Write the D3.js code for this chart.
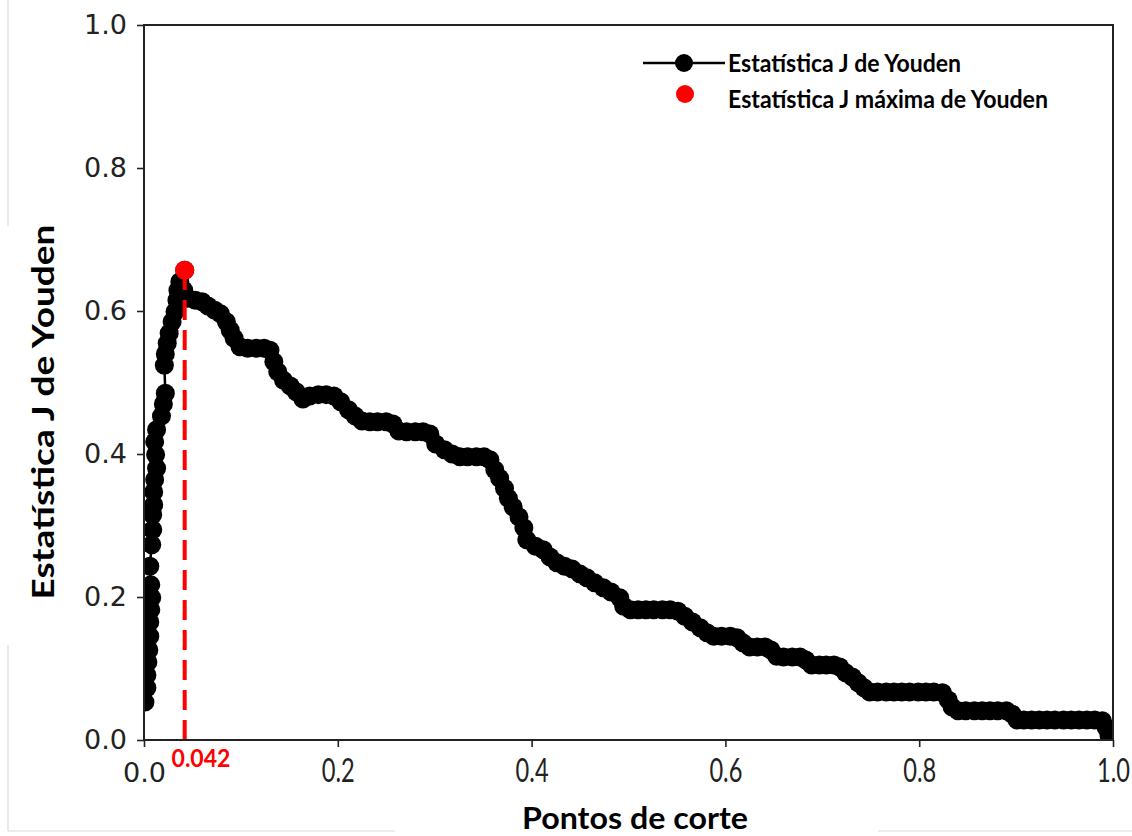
<!DOCTYPE html>
<html>
<head>
<meta charset="utf-8">
<script src="https://cdn.jsdelivr.net/npm/d3@7"></script>
<style>
body { margin: 0; background: #fff; }
svg { display: block; }
</style>
</head>
<body>
<script>
const WIDTH = 1132;
const HEIGHT = 836;
const LEFT = 144, RIGHT = 1113, TOP = 25, BOTTOM = 740;

// cut-off points (x) and Youden J (y)
var thresholds = [
    0.001, 0.003, 0.003, 0.004, 0.005, 0.006, 0.006, 0.007, 0.008, 0.007,
    0.006, 0.008, 0.009, 0.009, 0.010, 0.010, 0.011, 0.013, 0.012, 0.011,
    0.013, 0.018, 0.020, 0.022, 0.021, 0.022, 0.024, 0.026, 0.029, 0.032,
    0.034, 0.035, 0.037, 0.042, 0.041, 0.045, 0.053, 0.060, 0.066, 0.073,
    0.079, 0.085, 0.089, 0.093, 0.099, 0.107, 0.116, 0.124, 0.130, 0.134,
    0.138, 0.144, 0.151, 0.157, 0.164, 0.171, 0.180, 0.188, 0.196, 0.203,
    0.211, 0.218, 0.225, 0.233, 0.241, 0.250, 0.257, 0.263, 0.271, 0.280,
    0.288, 0.295, 0.301, 0.310, 0.318, 0.326, 0.334, 0.343, 0.351, 0.357,
    0.362, 0.367, 0.372, 0.376, 0.381, 0.387, 0.392, 0.395, 0.404, 0.412,
    0.419, 0.426, 0.434, 0.442, 0.450, 0.457, 0.465, 0.474, 0.482, 0.491,
    0.495, 0.502, 0.510, 0.518, 0.526, 0.535, 0.543, 0.551, 0.558, 0.566,
    0.574, 0.581, 0.588, 0.596, 0.605, 0.612, 0.618, 0.625, 0.633, 0.641,
    0.647, 0.653, 0.660, 0.669, 0.677, 0.683, 0.689, 0.697, 0.704, 0.712,
    0.718, 0.724, 0.731, 0.737, 0.743, 0.749, 0.757, 0.766, 0.774, 0.782,
    0.790, 0.799, 0.807, 0.815, 0.824, 0.830, 0.834, 0.840, 0.848, 0.857,
    0.865, 0.873, 0.881, 0.890, 0.896, 0.901, 0.908, 0.916, 0.924, 0.932,
    0.940, 0.949, 0.957, 0.965, 0.973, 0.981, 0.989, 0.993, 0.996, 0.999
];
var jValues = [
    0.053, 0.073, 0.091, 0.109, 0.126, 0.145, 0.165, 0.182, 0.199, 0.217,
    0.243, 0.273, 0.294, 0.315, 0.329, 0.347, 0.364, 0.380, 0.399, 0.417,
    0.434, 0.453, 0.470, 0.485, 0.524, 0.540, 0.555, 0.569, 0.585, 0.599,
    0.615, 0.629, 0.641, 0.657, 0.629, 0.618, 0.615, 0.613, 0.607, 0.601,
    0.596, 0.585, 0.573, 0.562, 0.550, 0.548, 0.548, 0.548, 0.545, 0.529,
    0.515, 0.503, 0.495, 0.487, 0.477, 0.481, 0.483, 0.483, 0.481, 0.473,
    0.462, 0.453, 0.446, 0.445, 0.445, 0.445, 0.442, 0.432, 0.431, 0.431,
    0.431, 0.428, 0.414, 0.406, 0.400, 0.396, 0.396, 0.396, 0.396, 0.392,
    0.378, 0.366, 0.352, 0.338, 0.326, 0.312, 0.297, 0.280, 0.271, 0.266,
    0.256, 0.248, 0.243, 0.239, 0.232, 0.227, 0.220, 0.213, 0.207, 0.199,
    0.187, 0.182, 0.182, 0.182, 0.182, 0.182, 0.182, 0.180, 0.173, 0.165,
    0.157, 0.150, 0.145, 0.145, 0.145, 0.143, 0.136, 0.130, 0.130, 0.130,
    0.126, 0.117, 0.116, 0.116, 0.116, 0.112, 0.105, 0.105, 0.105, 0.105,
    0.102, 0.094, 0.088, 0.080, 0.073, 0.067, 0.067, 0.067, 0.067, 0.067,
    0.067, 0.067, 0.067, 0.067, 0.066, 0.056, 0.046, 0.041, 0.041, 0.041,
    0.041, 0.041, 0.041, 0.041, 0.036, 0.028, 0.028, 0.028, 0.028, 0.028,
    0.028, 0.028, 0.028, 0.028, 0.028, 0.028, 0.027, 0.017, 0.006, 0.002
];
var maxThreshold = 0.042;
var maxJ = 0.657;

var xTicks = [0, 0.2, 0.4, 0.6, 0.8, 1.0];
var yTicks = [0, 0.2, 0.4, 0.6, 0.8, 1.0];
var legendNames = ['Estatística J de Youden', 'Estatística J máxima de Youden'];
var xLabel = 'Pontos de corte';
var yLabel = 'Estatística J de Youden';

var svg = d3.select('body').append('svg')
    .attr('width', WIDTH)
    .attr('height', HEIGHT);

svg.append('rect')
    .attr('width', WIDTH)
    .attr('height', HEIGHT)
    .attr('fill', '#fff');

// faint frame left over from the screenshot
var frame = svg.append('g')
    .attr('stroke', '#dcdcdc')
    .attr('stroke-width', 1.2);
frame.append('line').attr('x1', 8).attr('x2', 8).attr('y1', 0).attr('y2', 226);
frame.append('line').attr('x1', 8).attr('x2', 8).attr('y1', 645).attr('y2', 831);
frame.append('line').attr('x1', 8).attr('x2', 395).attr('y1', 831).attr('y2', 831);
frame.append('line').attr('x1', 878).attr('x2', WIDTH).attr('y1', 831).attr('y2', 831);

var xScale = d3.scaleLinear()
    .domain([0, 1])
    .range([LEFT, RIGHT]);
var yScale = d3.scaleLinear()
    .domain([0, 1])
    .range([BOTTOM, TOP]);

svg.append('clipPath')
    .attr('id', 'plot-area')
    .append('rect')
    .attr('x', LEFT)
    .attr('y', TOP)
    .attr('width', RIGHT - LEFT)
    .attr('height', BOTTOM - TOP);

var points = thresholds.map(function (t, i) {
    return [t, jValues[i]];
});

var line = d3.line()
    .x(function (d) { return xScale(d[0]); })
    .y(function (d) { return yScale(d[1]); });

var plot = svg.append('g')
    .attr('clip-path', 'url(#plot-area)');

plot.append('path')
    .attr('d', line(points))
    .attr('fill', 'none')
    .attr('stroke', '#000')
    .attr('stroke-width', 2.5);

plot.selectAll('circle.j')
    .data(points)
    .enter()
    .append('circle')
    .classed('j', true)
    .attr('cx', function (d) { return xScale(d[0]); })
    .attr('cy', function (d) { return yScale(d[1]); })
    .attr('r', 9.5)
    .attr('fill', '#000');

plot.append('line')
    .attr('x1', xScale(maxThreshold))
    .attr('x2', xScale(maxThreshold))
    .attr('y1', yScale(0))
    .attr('y2', yScale(maxJ))
    .attr('stroke', '#ff0000')
    .attr('stroke-width', 4)
    .attr('stroke-dasharray', '20,10');

plot.append('circle')
    .attr('cx', xScale(maxThreshold))
    .attr('cy', yScale(maxJ))
    .attr('r', 9.5)
    .attr('fill', '#ff0000');

// axes
var xAxis = d3.axisBottom(xScale)
    .tickValues(xTicks)
    .tickSize(7)
    .tickFormat(d3.format('.1f'));
var yAxis = d3.axisLeft(yScale)
    .tickValues(yTicks)
    .tickSize(7)
    .tickPadding(10)
    .tickFormat(d3.format('.1f'));

var gx = svg.append('g')
    .attr('transform', 'translate(0,' + BOTTOM + ')')
    .call(xAxis);
var gy = svg.append('g')
    .attr('transform', 'translate(' + LEFT + ',0)')
    .call(yAxis);

gx.select('.domain').remove();
gy.select('.domain').remove();
svg.selectAll('.tick line')
    .attr('stroke', '#222')
    .attr('stroke-width', 1.6);

gy.selectAll('.tick text')
    .attr('font-family', 'DejaVu Sans')
    .attr('font-size', 27)
    .attr('fill', '#222');

gx.selectAll('.tick text')
    .attr('y', 42)
    .attr('dy', 0)
    .attr('fill', '#222')
    .each(function (d) {
        var t = d3.select(this);
        if (d === 0) {
            t.attr('font-family', 'DejaVu Sans').attr('font-size', 27);
        } else {
            t.attr('font-family', 'Lato')
                .attr('font-size', 33)
                .attr('textLength', 33)
                .attr('lengthAdjust', 'spacingAndGlyphs');
        }
    });

svg.append('rect')
    .attr('x', LEFT)
    .attr('y', TOP)
    .attr('width', RIGHT - LEFT)
    .attr('height', BOTTOM - TOP)
    .attr('fill', 'none')
    .attr('stroke', '#222')
    .attr('stroke-width', 2);

// label of the best cut-off
svg.append('text')
    .attr('x', 201)
    .attr('y', 767)
    .attr('text-anchor', 'middle')
    .attr('font-family', 'Lato')
    .attr('font-weight', 700)
    .attr('font-size', 24)
    .attr('textLength', 59)
    .attr('lengthAdjust', 'spacingAndGlyphs')
    .attr('fill', '#ff0000')
    .text(d3.format('.3f')(maxThreshold));

// axis titles
svg.append('text')
    .attr('x', 635)
    .attr('y', 829)
    .attr('text-anchor', 'middle')
    .attr('font-family', 'Lato')
    .attr('font-weight', 700)
    .attr('font-size', 30)
    .attr('textLength', 226)
    .attr('lengthAdjust', 'spacingAndGlyphs')
    .attr('fill', '#000')
    .text(xLabel);

svg.append('text')
    .attr('transform', 'translate(54,412) rotate(-90)')
    .attr('text-anchor', 'middle')
    .attr('font-family', 'Lato')
    .attr('font-weight', 700)
    .attr('font-size', 31)
    .attr('textLength', 375)
    .attr('lengthAdjust', 'spacingAndGlyphs')
    .attr('fill', '#000')
    .text(yLabel);

// legend
var legend = svg.append('g');
legend.append('line')
    .attr('x1', 643)
    .attr('x2', 725)
    .attr('y1', 63)
    .attr('y2', 63)
    .attr('stroke', '#000')
    .attr('stroke-width', 2.5);
legend.append('circle')
    .attr('cx', 684)
    .attr('cy', 63)
    .attr('r', 9)
    .attr('fill', '#000');
legend.append('circle')
    .attr('cx', 685)
    .attr('cy', 94)
    .attr('r', 9)
    .attr('fill', '#ff0000');

var legendWidths = [233, 320];
var legendBaselines = [72, 108];
legend.selectAll('text')
    .data(legendNames)
    .enter()
    .append('text')
    .attr('x', 728)
    .attr('y', function (d, i) { return legendBaselines[i]; })
    .attr('font-family', 'Lato')
    .attr('font-weight', 700)
    .attr('font-size', 24)
    .attr('textLength', function (d, i) { return legendWidths[i]; })
    .attr('lengthAdjust', 'spacingAndGlyphs')
    .attr('fill', '#000')
    .text(function (d) { return d; });
</script>
</body>
</html>
